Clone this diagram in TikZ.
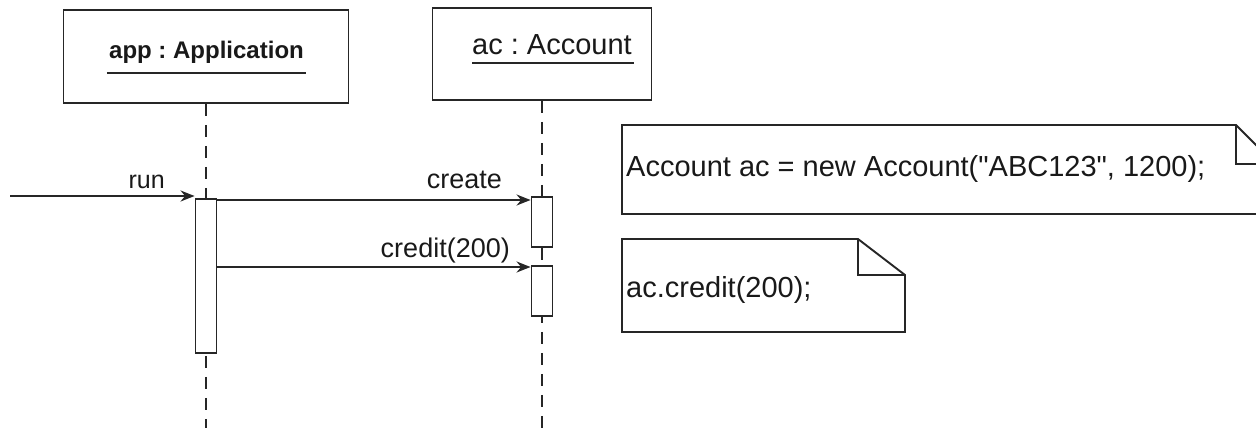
\documentclass[tikz,border=0pt]{standalone}
\usepackage{fontspec}
\setmainfont{Liberation Sans}[Ligatures=TeXOff]
\usetikzlibrary{arrows.meta}
\frenchspacing
\newcommand{\notefont}{\fontsize{29}{34}\selectfont}
\newcommand{\msgfont}{\fontsize{27}{32}\selectfont}
\begin{document}
\begin{tikzpicture}[x=1pt,y=-1pt,
  ink/.style={draw=black!85, line width=1.9pt},
  head/.style={ink, fill=white, inner sep=0pt},
  actbar/.style={ink, fill=white, minimum width=21pt, inner sep=0pt},
  life/.style={ink, dash pattern=on 12pt off 9pt},
  msg/.style={ink, -{Stealth[length=14pt,width=11pt]}},
  lbl/.style={inner sep=0pt, text=black!90},
  notebox/.style={ink, line join=miter},
]
\useasboundingbox (0,0) rectangle (1256,428);

% object heads
\node[head, minimum width=285pt, minimum height=93pt] (apphead) at (206,56.5) {};
\node[head, minimum width=219pt, minimum height=92pt] (achead) at (542,54) {};
\node[lbl, anchor=base, font=\fontsize{24}{28}\selectfont\bfseries] (applbl) at (206.5,59) {app : Application};
\draw[ink] ([xshift=-2pt,yshift=-14pt]applbl.base west) -- ([xshift=2pt,yshift=-14pt]applbl.base east);
\node[lbl, anchor=base, font=\notefont] (aclbl) at (552,55) {ac : Account};
\draw[ink] ([yshift=-8pt]aclbl.base west) -- ([xshift=2pt,yshift=-8pt]aclbl.base east);

% lifelines
\coordinate (append) at (206,428);
\coordinate (acend) at (542,428);
\draw[life] (apphead.south) -- (append);
\draw[life] (achead.south) -- (acend);

% activation bars
\node[actbar, minimum height=154pt] (appbar) at (206,276) {};
\node[actbar, minimum height=50pt] (acbar1) at (542,222) {};
\node[actbar, minimum height=50pt] (acbar2) at (542,291) {};

% messages
\coordinate (runsrc) at (10,196);
\coordinate (mcreate) at (0,200);
\coordinate (mcredit) at (0,267);
\draw[msg] (runsrc) -- (appbar.west |- runsrc);
\draw[msg] (appbar.east |- mcreate) -- (acbar1.west |- mcreate);
\draw[msg] (appbar.east |- mcredit) -- (acbar2.west |- mcredit);
\node[lbl, anchor=base east, font=\fontsize{25}{30}\selectfont] (runlbl) at (165,188) {run};
\node[lbl, anchor=base east, font=\msgfont] (createlbl) at (502,188) {create};
\node[lbl, anchor=base east, font=\msgfont] (creditlbl) at (510,257) {credit(200)};

% notes
\draw[notebox] (622,125) -- (1236,125) -- (1275,164) -- (1275,214) -- (622,214) -- cycle;
\draw[notebox] (1236,125) -- (1236,164) -- (1275,164);
\node[lbl, anchor=base west, font=\notefont] (note1) at (626,176) {Account ac = new Account("ABC123", 1200);};

\draw[notebox] (622,239) -- (858,239) -- (905,275) -- (905,332) -- (622,332) -- cycle;
\draw[notebox] (858,239) -- (858,275) -- (905,275);
\node[lbl, anchor=base west, font=\notefont] (note2) at (626,297) {ac.credit(200);};
\end{tikzpicture}
\end{document}
